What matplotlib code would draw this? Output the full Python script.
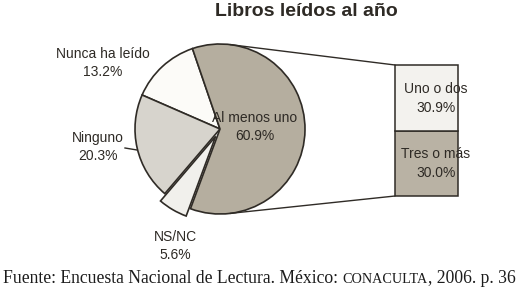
import matplotlib.pyplot as plt
from matplotlib.patches import ConnectionPatch
import numpy as np

# data
pie_labels = ["Nunca ha leído", "Ninguno", "NS/NC", "Al menos uno"]
pie_values = [13.2, 20.3, 5.6, 60.9]
bar_labels = ["Tres o más", "Uno o dos"]
bar_values = [30.0, 30.9]

title = "Libros leídos al año"
source_parts = ["Fuente: Encuesta Nacional de Lectura. México: ", "CONACULTA", ", 2006. p. 36"]

pie_colors = ["#fcfbf8", "#d7d4cd", "#f1f0ec", "#b5ae9f"]
bar_colors = ["#b9b2a4", "#f3f2ee"]
edge = "#2f2b26"
txt = "#2e2a25"
H = 298

plt.rcParams['font.family'] = ['Liberation Sans', 'DejaVu Sans']

fig = plt.figure(figsize=(5.31, 2.98), dpi=100)
ax = fig.add_axes([0, 0, 1, 1])

cx, cy, r = 220, H - 129, 85
# explode is in data units here (radius is in pixels)
wedges, _ = ax.pie(pie_values, colors=pie_colors, startangle=108.9,
                   explode=[0, 0, 0.1 * r, 0], radius=r, center=(cx, cy), frame=True,
                   wedgeprops=dict(edgecolor=edge, linewidth=1.2))
ax.set_xlim(0, 531)
ax.set_ylim(0, H)
ax.set_aspect('equal')
ax.axis('off')

# pie labels
lab_pos = [(103, 63), (98, 147), (175, 246), (255, 127)]
for name, v, (x, y) in zip(pie_labels, pie_values, lab_pos):
    ax.text(x, H - y, f"{name}\n{v:.1f}%", ha='center', va='center',
            fontsize=10, color=txt, linespacing=1.45)
ax.plot([125, 137], [H - 148, H - 150], color=edge, lw=1)

# bar of pie
ax2 = fig.add_axes([395 / 531, (H - 196) / H, 63 / 531, 131 / H])
bottom = 0
for name, v, c in zip(bar_labels, bar_values, bar_colors):
    ax2.bar(0, v, width=1, bottom=bottom, color=c, edgecolor=edge,
            linewidth=1.1, clip_on=False)
    ax2.text(0.15, bottom + v / 2, f"{name}\n{v:.1f}%", ha='center', va='center',
             fontsize=10, color=txt, linespacing=1.45)
    bottom += v
ax2.set_xlim(-0.5, 0.5)
ax2.set_ylim(0, sum(bar_values))
ax2.axis('off')

# connector lines
for ang, yb in [(83.2, sum(bar_values)), (-83.2, 0)]:
    p = (cx + r * np.cos(np.radians(ang)), cy + r * np.sin(np.radians(ang)))
    con = ConnectionPatch(xyA=p, coordsA=ax.transData, xyB=(-0.5, yb),
                          coordsB=ax2.transData, color=edge, lw=1)
    fig.add_artist(con)

ax.text(306, H - 12, title, ha='center', va='center', fontsize=14,
        fontweight='bold', color=txt)

# source line, with small caps part
renderer = fig.canvas.get_renderer()
x0 = 3
sizes = [12.7, 10.2, 12.7]
for part, s in zip(source_parts, sizes):
    t = fig.text(x0 / 531, 1 - 283 / H, part, fontsize=s, color="#1c1c1c",
                 family=['Liberation Serif', 'DejaVu Serif'], va='baseline')
    bb = t.get_window_extent(renderer)
    x0 += bb.width

fig.savefig("out.png", dpi=100)
